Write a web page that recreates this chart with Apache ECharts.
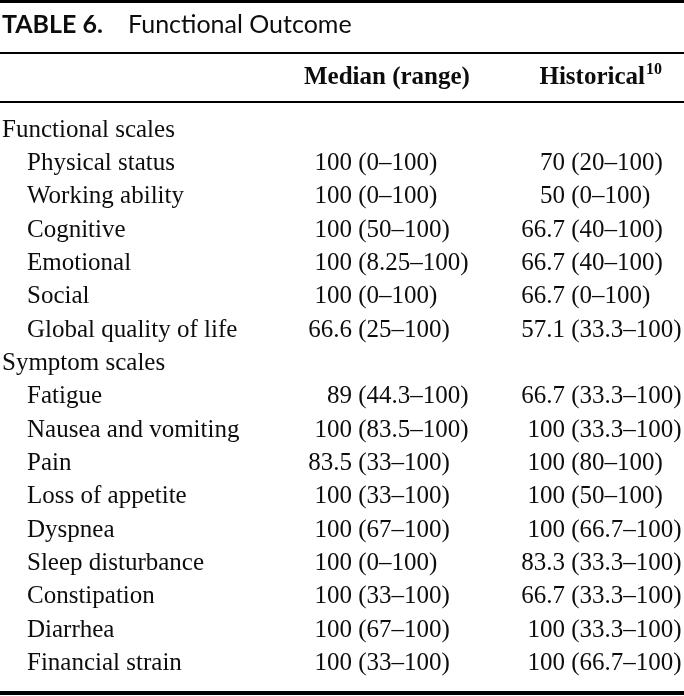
<!DOCTYPE html>
<html>
<head>
<meta charset="utf-8">
<script src="https://cdn.jsdelivr.net/npm/echarts@6/dist/echarts.min.js"></script>
<style>
html,body{margin:0;padding:0;background:#fff;}
#main{width:684px;height:696px;}
</style>
</head>
<body>
<div id="main"></div>
<script>
// ---- data ----
const tableNumber = 'TABLE 6.';
const tableTitle = 'Functional Outcome';
const columnHeaders = ['Median (range)', 'Historical'];
const historicalRef = '10';
const categories = ['Functional scales', 'Physical status', 'Working ability', 'Cognitive', 'Emotional', 'Social', 'Global quality of life',
  'Symptom scales', 'Fatigue', 'Nausea and vomiting', 'Pain', 'Loss of appetite', 'Dyspnea', 'Sleep disturbance', 'Constipation', 'Diarrhea', 'Financial strain'];
const rowLevel = [0, 1, 1, 1, 1, 1, 1, 0, 1, 1, 1, 1, 1, 1, 1, 1, 1];
const medianValue = [null, 100, 100, 100, 100, 100, 66.6, null, 89, 100, 83.5, 100, 100, 100, 100, 100, 100];
const medianLow   = [null, 0, 0, 50, 8.25, 0, 25, null, 44.3, 83.5, 33, 33, 67, 0, 33, 67, 33];
const medianHigh  = [null, 100, 100, 100, 100, 100, 100, null, 100, 100, 100, 100, 100, 100, 100, 100, 100];
const histValue   = [null, 70, 50, 66.7, 66.7, 66.7, 57.1, null, 66.7, 100, 100, 100, 100, 83.3, 66.7, 100, 100];
const histLow     = [null, 20, 0, 40, 40, 0, 33.3, null, 33.3, 33.3, 80, 50, 66.7, 33.3, 33.3, 33.3, 66.7];
const histHigh    = [null, 100, 100, 100, 100, 100, 100, null, 100, 100, 100, 100, 100, 100, 100, 100, 100];

// ---- layout ----
const SERIF = '"Liberation Serif", "Times New Roman", serif';
const SANS = 'Lato, "Open Sans", sans-serif';
const bodyFont = '25px ' + SERIF;
const headFont = 'bold 25px ' + SERIF;
const COL_LABEL = 2, COL_INDENT = 27, COL_MED = 352, COL_HIST = 565;
const INK = '#0d0d0d';

function txt(text, x, y, font, align) {
  return { type: 'text', style: { text: text, x: x, y: y, font: font, fill: INK,
    align: align, textAlign: align, verticalAlign: 'middle', textVerticalAlign: 'middle' } };
}

function renderItem(params, api) {
  const i = api.value(1);
  const y = api.coord([0, i])[1];
  const children = [];
  children.push(txt(categories[i], rowLevel[i] ? COL_INDENT : COL_LABEL, y, bodyFont, 'left'));
  if (medianValue[i] != null) {
    children.push(txt(String(medianValue[i]), COL_MED, y, bodyFont, 'right'));
    children.push(txt(' (' + medianLow[i] + '\u2013' + medianHigh[i] + ')', COL_MED, y, bodyFont, 'left'));
  }
  if (histValue[i] != null) {
    children.push(txt(String(histValue[i]), COL_HIST, y, bodyFont, 'right'));
    children.push(txt(' (' + histLow[i] + '\u2013' + histHigh[i] + ')', COL_HIST, y, bodyFont, 'left'));
  }
  return { type: 'group', children: children };
}

function rule(y, h) {
  return { type: 'rect', shape: { x: 0, y: y, width: 684, height: h }, style: { fill: '#000' }, silent: true };
}

const chart = echarts.init(document.getElementById('main'), null, { renderer: 'canvas' });
chart.setOption({
  animation: false,
  backgroundColor: '#fff',
  grid: { left: 0, right: 0, top: 113.5, bottom: 15.8 },
  xAxis: { type: 'value', min: 0, max: 684, show: false },
  yAxis: { type: 'category', data: categories, inverse: true, show: false },
  series: [{ type: 'custom', silent: true, data: categories.map((c, i) => [0, i]), renderItem: renderItem }],
  graphic: [
    rule(0, 3), rule(52, 2), rule(101, 2), rule(691, 4),
    txt(tableNumber, 2, 25, 'bold 25px ' + SANS, 'left'),
    txt(tableTitle, 128, 25, '25px ' + SANS, 'left'),
    txt(columnHeaders[0], 304, 78, headFont, 'left'),
    txt(columnHeaders[1], 645, 78, headFont, 'right'),
    txt(historicalRef, 646, 70, 'bold 16px ' + SERIF, 'left')
  ]
});
</script>
</body>
</html>
